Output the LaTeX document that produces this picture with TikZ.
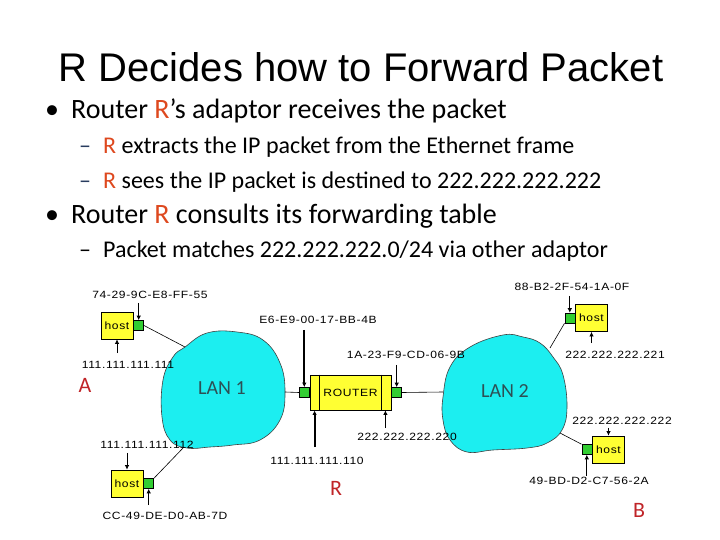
\documentclass[tikz,border=0pt]{standalone}
\usepackage{fontspec}
\setmainfont{Carlito}
\newfontfamily\titlefont{Liberation Sans}
\newfontfamily\netfont[LetterSpace=6,FakeStretch=1.15]{Liberation Sans}
\usetikzlibrary{positioning,arrows.meta}
\definecolor{rorange}{RGB}{222,72,30}
\definecolor{adred}{RGB}{192,36,40}
\definecolor{dashblue}{RGB}{40,60,95}
\definecolor{lancyan}{RGB}{28,238,240}
\definecolor{hostyel}{RGB}{255,255,51}
\definecolor{portgrn}{RGB}{50,205,50}
\definecolor{lantext}{RGB}{45,80,85}
\newcommand{\Rr}{\textcolor{rorange}{R}}
\tikzset{
lan/.style={fill=lancyan,draw=black!75,line width=0.6pt},
hostbox/.style={draw=black,fill=hostyel,line width=0.8pt,minimum width=32pt,minimum height=27pt,inner sep=0pt,font=\netfont\fontsize{10.5}{12}\selectfont},
portbox/.style={draw=black,fill=portgrn,line width=0.6pt,minimum width=10pt,minimum height=10pt,inner sep=0pt},
routerbox/.style={draw=black,fill=hostyel,line width=0.8pt,minimum width=81pt,minimum height=35pt,inner sep=0pt,font=\netfont\fontsize{10.5}{12}\selectfont},
addr/.style={font=\netfont\fontsize{10.5}{12}\selectfont,inner sep=1pt},
ptr/.style={-{Latex[length=4.5pt,width=4.5pt]},line width=0.8pt},
bigptr/.style={ptr,line width=1.8pt},
link/.style={line width=0.6pt},
lanlabel/.style={font=\fontsize{20}{24}\selectfont,text=lantext},
tag/.style={font=\fontsize{22}{26}\selectfont,text=adred},
bullet/.style={anchor=base west,font=\fontsize{28}{34}\selectfont,inner sep=0pt},
subbullet/.style={anchor=base west,font=\fontsize{24}{29}\selectfont,inner sep=0pt}
}

\begin{document}
\begin{tikzpicture}[x=1pt,y=-1pt]
\fill[white] (0,0) rectangle (720,540);
\useasboundingbox (0,0) rectangle (720,540);

\node[font=\titlefont\fontsize{40}{48}\selectfont,anchor=base,inner sep=0pt] (title) at (361,82) {R Decides how to Forward Packet};
\node[bullet] (dot1) at (45,119) {\textbullet};
\node[bullet] (b1) at (71,119) {Router \Rr's adaptor receives the packet};
\node[subbullet,text=dashblue] (dash1) at (79,154) {--};
\node[subbullet] (s1) at (103,154) {\Rr{} extracts the IP packet from the Ethernet frame};
\node[subbullet,text=dashblue] (dash2) at (79,189) {--};
\node[subbullet] (s2) at (103,189) {\Rr{} sees the IP packet is destined to 222.222.222.222};
\node[bullet] (dot2) at (45,223) {\textbullet};
\node[bullet] (b2) at (71,223) {Router \Rr{} consults its forwarding table};
\node[subbullet] (dash3) at (79,257) {--};
\node[subbullet] (s3) at (103,257) {Packet matches 222.222.222.0/24 via other adaptor};

\draw[lan] plot[smooth cycle,tension=0.7] coordinates {(163,380) (173,357) (185,347) (207,333) (237,332) (263,340) (280,363) (285,392) (280,420) (260,440) (233,445) (210,447) (187,448) (170,440) (162,417)};
\draw[lan] plot[smooth cycle,tension=0.7] coordinates {(443,397) (450,367) (470,347) (503,335) (523,337) (540,343) (553,357) (563,375) (567,407) (562,430) (547,443) (527,448) (493,450) (467,452) (450,440) (443,420)};
\coordinate (l1a) at (185,347);
\coordinate (l1b) at (184,447);
\coordinate (l1r) at (285,392);
\coordinate (l2l) at (443,392);
\coordinate (l2a) at (550,348);
\coordinate (l2b) at (560,433);
\node[lanlabel] (lan1) at (222,388) {LAN 1};
\node[lanlabel] (lan2) at (505,391) {LAN 2};

\node[hostbox] (hA) at (117,325.5) {host};
\node[portbox,right=0pt of hA] (pA) {};
\node[hostbox] (hA2) at (127,483.5) {host};
\node[portbox,right=0pt of hA2] (pA2) {};
\node[hostbox] (hB) at (591.5,318) {host};
\node[portbox,left=0pt of hB] (pB) {};
\node[hostbox] (hB2) at (608.5,449.5) {host};
\node[portbox,left=0pt of hB2] (pB2) {};
\node[routerbox] (rt) at (350.5,392.5) {ROUTER};
\node[portbox,left=0pt of rt] (pR1) {};
\node[portbox,right=0pt of rt] (pR2) {};
\draw[line width=0.6pt] ([xshift=10pt]rt.north west) -- ([xshift=10pt]rt.south west);
\draw[line width=0.6pt] ([xshift=-10pt]rt.north east) -- ([xshift=-10pt]rt.south east);

\draw[link] (pA.east) -- (l1a);
\draw[link] (pA2.north east) -- (l1b);
\draw[link] (l1r) -- (pR1.west);
\draw[link] (pR2.east) -- (l2l);
\draw[link] (pB.south west) -- (l2a);
\draw[link] (pB2.north west) -- (l2b);

\node[addr] (macA) at (150,295) {74-29-9C-E8-FF-55};
\node[addr] (ipA) at (128,365) {111.111.111.111};
\node[addr] (ipA2) at (147,445) {111.111.111.112};
\node[addr] (macA2) at (165,516) {CC-49-DE-D0-AB-7D};
\node[addr] (macR1) at (318,320) {E6-E9-00-17-BB-4B};
\node[addr] (macR2) at (406,355) {1A-23-F9-CD-06-9B};
\node[addr] (ipR1) at (317,461) {111.111.111.110};
\node[addr] (ipR2) at (407,437) {222.222.222.220};
\node[addr] (macB1) at (572,287) {88-B2-2F-54-1A-0F};
\node[addr] (ipB1) at (615,355) {222.222.222.221};
\node[addr] (ipB2) at (622,421) {222.222.222.222};
\node[addr] (macB2) at (589,481) {49-BD-D2-C7-56-2A};

\draw[ptr,shorten <=3pt] (macA.south -| pA) -- (pA.north);
\draw[ptr,shorten <=7pt] (ipA.north -| hA) -- (hA.south);
\draw[ptr,shorten <=3pt] (ipA2.south -| hA2) -- (hA2.north);
\draw[ptr,shorten <=6pt] (macA2.north -| pA2) -- (pA2.south);
\draw[bigptr,shorten <=5pt] (macR1.south -| pR1) -- (pR1.north);
\draw[ptr,shorten <=5pt] (macR2.south -| pR2) -- (pR2.north);
\draw[bigptr,shorten <=9pt] ([xshift=5pt]rt.south west |- ipR1.north) -- ([xshift=5pt]rt.south west);
\draw[ptr,shorten <=4pt] ([xshift=-6pt]rt.south east |- ipR2.north) -- ([xshift=-6pt]rt.south east);
\draw[ptr,shorten <=4pt] (macB1.south -| pB) -- (pB.north);
\draw[ptr,shorten <=7pt] (ipB1.north -| hB) -- (hB.south);
\draw[ptr,shorten <=2pt] (ipB2.south -| hB2) -- (hB2.north);
\draw[ptr] (macB2.north -| pB2) -- (pB2.south);

\node[tag] (tA) at (85,385) {A};
\node[tag] (tR) at (336,488) {R};
\node[tag] (tB) at (639,510) {B};
\end{tikzpicture}
\end{document}
